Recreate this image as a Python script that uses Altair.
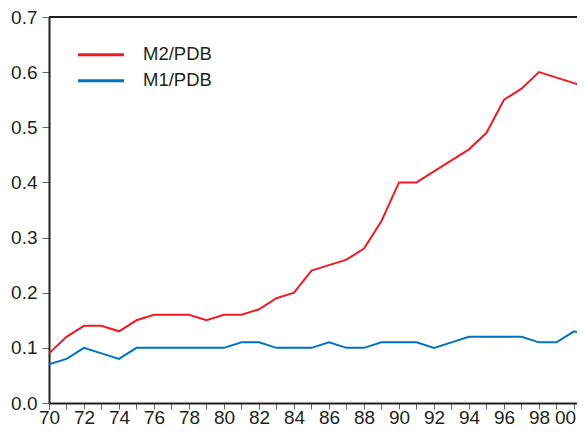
import altair as alt
import pandas as pd

years = list(range(1970, 2002))
m2_pdb = [0.09, 0.12, 0.14, 0.14, 0.13, 0.15, 0.16, 0.16, 0.16, 0.15,
          0.16, 0.16, 0.17, 0.19, 0.20, 0.24, 0.25, 0.26, 0.28, 0.33,
          0.40, 0.40, 0.42, 0.44, 0.46, 0.49, 0.55, 0.57, 0.60, 0.59,
          0.58, 0.57]
m1_pdb = [0.07, 0.08, 0.10, 0.09, 0.08, 0.10, 0.10, 0.10, 0.10, 0.10,
          0.10, 0.11, 0.11, 0.10, 0.10, 0.10, 0.11, 0.10, 0.10, 0.11,
          0.11, 0.11, 0.10, 0.11, 0.12, 0.12, 0.12, 0.12, 0.11, 0.11,
          0.13, 0.12]
series_names = ["M2/PDB", "M1/PDB"]
series_colors = ["#ee1c25", "#0072c0"]
x_ticks = list(range(1970, 2001))
y_ticks = [0.0, 0.1, 0.2, 0.3, 0.4, 0.5, 0.6, 0.7]

df = pd.DataFrame({
    "year": years * 2,
    "value": m2_pdb + m1_pdb,
    "series": [series_names[0]] * len(years) + [series_names[1]] * len(years),
})

PX_PER_YEAR = 17.5
W, H = 528, 386
FONT = "Liberation Sans"
TXT = "#231f20"

label_expr = ("datum.value % 2 == 0 ? ((datum.value % 100) < 10 ? '0' + (datum.value % 100) "
              ": '' + (datum.value % 100)) : ''")

lines = alt.Chart(df).mark_line(strokeWidth=2, clip=True).encode(
    x=alt.X("year:Q",
            scale=alt.Scale(domain=[1970, 1970 + W / PX_PER_YEAR], nice=False, zero=False),
            axis=alt.Axis(values=x_ticks, labelExpr=label_expr, title=None, grid=False,
                          tickSize=6, tickColor="#666666", tickWidth=1,
                          domainColor=TXT, domainWidth=2,
                          labelFont=FONT, labelFontSize=19, labelColor=TXT,
                          labelPadding=-1, labelFlush=False, labelOverlap=False,
                          labelOffset=alt.condition("datum.value == 2000", alt.value(-9), alt.value(0))
                          )),
    y=alt.Y("value:Q",
            scale=alt.Scale(domain=[0, 0.7], nice=False),
            axis=alt.Axis(values=y_ticks, format=".1f", title=None, grid=False,
                          tickSize=7, tickColor="#666666", tickWidth=1,
                          domainColor=TXT, domainWidth=2,
                          labelFont=FONT, labelFontSize=19, labelColor=TXT,
                          labelPadding=5, labelFlush=False, labelOverlap=False)),
    color=alt.Color("series:N", scale=alt.Scale(domain=series_names, range=series_colors),
                    legend=None),
    detail="series:N",
)

top_border = alt.Chart(pd.DataFrame({"a": [0]})).mark_rule(color=TXT, strokeWidth=2).encode(
    x=alt.value(0), x2=alt.value(W), y=alt.value(0)
)

layers = [lines, top_border]
leg_y = [37.7, 63.8]
for name, color, ly in zip(series_names, series_colors, leg_y):
    layers.append(
        alt.Chart(pd.DataFrame({"s": [name]})).mark_rule(color=color, strokeWidth=3).encode(
            x=alt.value(29), x2=alt.value(75), y=alt.value(ly)
        )
    )
    layers.append(
        alt.Chart(pd.DataFrame({"s": [name]})).mark_text(
            align="left", baseline="middle", font=FONT, fontSize=18.5, color=TXT
        ).encode(x=alt.value(94), y=alt.value(ly - 0.5), text="s:N")
    )

chart = alt.layer(*layers).properties(
    width=W, height=H,
    autosize=alt.AutoSizeParams(type="none"),
    padding={"left": 41, "top": 9, "right": 0, "bottom": 24},
    background="white",
).configure_view(stroke=None)

chart.save("out.html", embed_options={"renderer": "svg", "actions": False})
